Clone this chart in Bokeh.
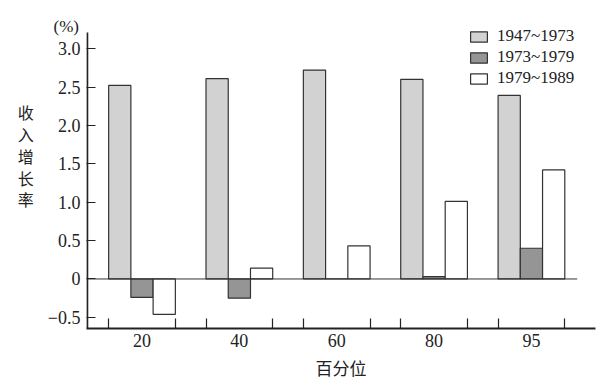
from bokeh.plotting import figure
from bokeh.models import (Range1d, FixedTicker, Legend, LegendItem, ColumnDataSource)
from bokeh.embed import file_html
from bokeh.resources import INLINE

# ---- data ----
percentiles = ["20", "40", "60", "80", "95"]
series_names = ["1947~1973", "1973~1979", "1979~1989"]
g1947_1973 = [2.52, 2.61, 2.72, 2.60, 2.39]
g1973_1979 = [-0.24, -0.25, 0.0, 0.03, 0.40]
g1979_1989 = [-0.46, 0.14, 0.43, 1.01, 1.42]
y_ticks = [-0.5, 0, 0.5, 1.0, 1.5, 2.0, 2.5, 3.0]
y_tick_labels = ["\u22120.5", "0", "0.5", "1.0", "1.5", "2.0", "2.5", "3.0"]
y_title = "收\n入\n增\n长\n率\n\u3000\n\u3000"
x_title = "百分位"
unit_text = "(%)"

# ---- style ----
SERIF = "Liberation Serif"
CJK = "Noto Sans CJK SC"
colors = ["#d2d2d2", "#959595", "#ffffff"]
bw = 0.2284
X0, X1 = -0.570, 4.658
Y0, Y1 = -0.645, 3.288      # frame extends a bit above the drawn axis line
AXIS_TOP = 3.21             # where the visible y-axis line ends

W, H = 600, 382
p = figure(width=W, height=H, output_backend="svg", toolbar_location=None,
           x_range=Range1d(X0, X1), y_range=Range1d(Y0, Y1),
           min_border_left=86, min_border_right=5, min_border_top=26, min_border_bottom=54)
p.outline_line_color = None
p.xgrid.visible = False
p.ygrid.visible = False
p.background_fill_color = "white"

# unit "(%)" as title
p.title.text = unit_text
p.title.align = "left"
p.title.offset = -33
p.title.standoff = -18
p.title.text_font = SERIF
p.title.text_font_size = "17px"
p.title.text_font_style = "normal"
p.title.text_color = "#222222"

centers = list(range(len(percentiles)))
series = [g1947_1973, g1973_1979, g1979_1989]
renderers = []
for k, (vals, col) in enumerate(zip(series, colors)):
    src = ColumnDataSource(dict(x=[c + (k - 1) * bw for c in centers], top=vals))
    r = p.vbar(x="x", top="top", bottom=0, width=bw, source=src,
               fill_color=col, line_color="#333333", line_width=1.2)
    renderers.append(r)

# zero line
p.segment(x0=[X0], y0=[0], x1=[4.47], y1=[0], line_color="#333333", line_width=1)
# visible y-axis line (stops below the frame top)
p.segment(x0=[X0 + 0.008], y0=[Y0], x1=[X0 + 0.008], y1=[AXIS_TOP],
          line_color="#222222", line_width=2)

# y axis
ya = p.yaxis[0]
ya.ticker = FixedTicker(ticks=y_ticks)
ya.major_label_overrides = {t: l for t, l in zip(y_ticks, y_tick_labels)}
ya.major_tick_in = 9
ya.major_tick_out = 0
ya.minor_tick_in = 0
ya.minor_tick_out = 0
ya.major_label_standoff = 6
ya.major_label_text_font = SERIF
ya.major_label_text_font_size = "18px"
ya.major_label_text_color = "#222222"
ya.axis_line_color = None
ya.major_tick_line_color = "#222222"
ya.major_tick_line_width = 1.2
ya.axis_label = y_title
ya.axis_label_orientation = "horizontal"
ya.axis_label_text_font = CJK
ya.axis_label_text_font_size = "16px"
ya.axis_label_text_font_style = "normal"
ya.axis_label_text_line_height = 0.915
ya.axis_label_text_color = "#222222"
ya.axis_label_standoff = 11

# x axis
edges = []
for c in centers:
    edges += [c - 1.5 * bw, c + 1.5 * bw]
xa = p.xaxis[0]
xa.ticker = FixedTicker(ticks=centers, minor_ticks=edges)
xa.major_label_overrides = {c: l for c, l in zip(centers, percentiles)}
xa.major_tick_in = 0
xa.major_tick_out = 0
xa.minor_tick_in = 10
xa.minor_tick_out = 0
xa.minor_tick_line_color = "#222222"
xa.minor_tick_line_width = 1.2
xa.major_label_standoff = 5
xa.major_label_text_font = SERIF
xa.major_label_text_font_size = "18px"
xa.major_label_text_color = "#222222"
xa.axis_line_width = 2
xa.axis_line_color = "#222222"
xa.axis_label = x_title
xa.axis_label_text_font = CJK
xa.axis_label_text_font_size = "17px"
xa.axis_label_text_font_style = "normal"
xa.axis_label_text_color = "#222222"
xa.axis_label_standoff = 5

legend = Legend(items=[LegendItem(label=n, renderers=[r]) for n, r in zip(series_names, renderers)],
                location=(382, 240), padding=0, margin=0, spacing=1,
                glyph_width=21, glyph_height=13, label_height=18, label_standoff=8,
                label_text_font=SERIF, label_text_font_size="17px", label_text_color="#222222",
                label_text_line_height=1.0,
                border_line_color=None, background_fill_alpha=0)
p.add_layout(legend, "center")

open("out.html", "w").write(file_html(p, INLINE))
